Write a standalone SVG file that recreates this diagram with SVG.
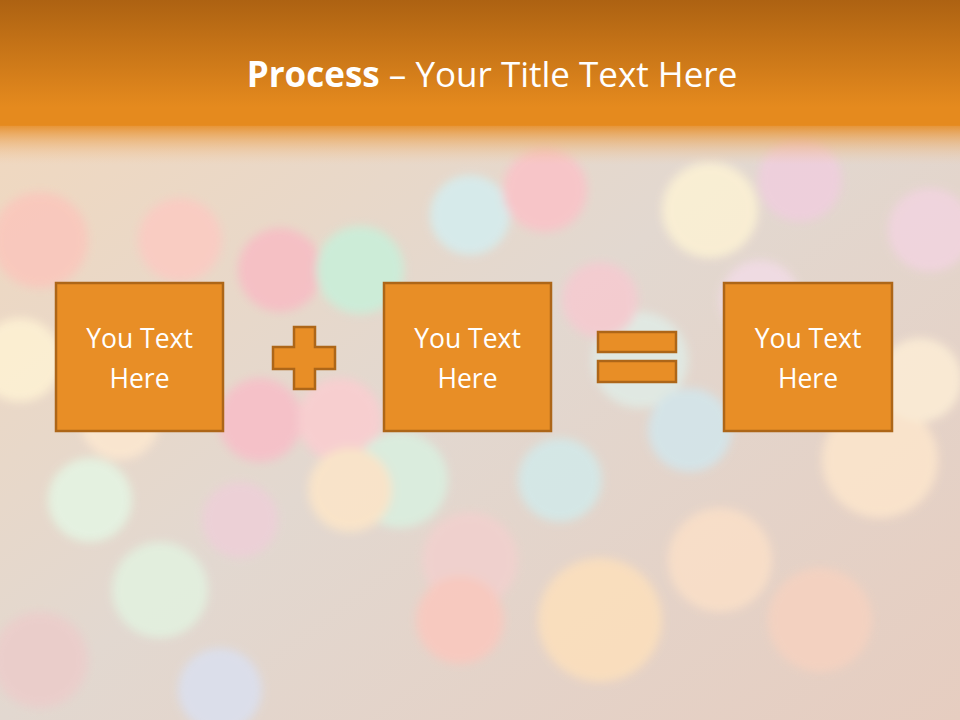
<svg xmlns="http://www.w3.org/2000/svg" width="960" height="720" viewBox="0 0 960 720">
<defs>
<linearGradient id="hdr" x1="0" y1="0" x2="0" y2="1">
<stop offset="0" stop-color="#ad6212"/>
<stop offset="0.85" stop-color="#e58a1e"/>
<stop offset="1" stop-color="#e58a1e"/>
</linearGradient>
<linearGradient id="fade" x1="0" y1="0" x2="0" y2="1">
<stop offset="0" stop-color="#e68b22" stop-opacity="0.9"/>
<stop offset="1" stop-color="#f3c9a0" stop-opacity="0"/>
</linearGradient>
<linearGradient id="bg" x1="0" y1="0" x2="1" y2="1">
<stop offset="0" stop-color="#f3d8bc"/>
<stop offset="0.5" stop-color="#e2d8d0"/>
<stop offset="1" stop-color="#e6cdc0"/>
</linearGradient>
<filter id="blur" x="-20%" y="-20%" width="140%" height="140%"><feGaussianBlur stdDeviation="5"/></filter>
<style>
.box{fill:#e88e26;stroke:#ad6618;stroke-width:2.5}
.sym{fill:#e88e26;stroke:#ad6618;stroke-width:2.5}
.lbl{font-family:"Open Sans","Liberation Sans",sans-serif;font-size:26.5px;fill:#ffffff;text-anchor:middle}
.title{font-family:"Open Sans","Liberation Sans",sans-serif;font-size:35px;fill:#ffffff;text-anchor:middle}
</style>
</defs>
<rect width="960" height="720" fill="url(#bg)"/>
<g filter="url(#blur)" opacity="0.85">
<circle cx="40" cy="240" r="48" fill="#fbc6bc"/>
<circle cx="180" cy="240" r="42" fill="#fccac2"/>
<circle cx="280" cy="270" r="42" fill="#f8bcc4"/>
<circle cx="360" cy="270" r="44" fill="#c8f0da"/>
<circle cx="470" cy="215" r="40" fill="#d4eef0"/>
<circle cx="545" cy="190" r="42" fill="#fbc2c8"/>
<circle cx="710" cy="210" r="48" fill="#fdf2d4"/>
<circle cx="800" cy="180" r="42" fill="#f0cede"/>
<circle cx="930" cy="230" r="42" fill="#f2d4e0"/>
<circle cx="20" cy="360" r="42" fill="#fef2d4"/>
<circle cx="260" cy="420" r="42" fill="#f8bec8"/>
<circle cx="340" cy="420" r="42" fill="#fbcdd0"/>
<circle cx="400" cy="480" r="48" fill="#d9f0e0"/>
<circle cx="350" cy="490" r="42" fill="#fde6c8"/>
<circle cx="90" cy="500" r="42" fill="#e4f6e4"/>
<circle cx="160" cy="590" r="48" fill="#e2f2e0"/>
<circle cx="240" cy="520" r="38" fill="#eecfd8"/>
<circle cx="560" cy="480" r="42" fill="#d2eaea"/>
<circle cx="470" cy="560" r="48" fill="#f2d0ce"/>
<circle cx="460" cy="620" r="44" fill="#fbc8be"/>
<circle cx="600" cy="620" r="62" fill="#fde0bc"/>
<circle cx="720" cy="560" r="52" fill="#fbe0c8"/>
<circle cx="880" cy="460" r="58" fill="#fde6cc"/>
<circle cx="920" cy="380" r="42" fill="#fdeed6"/>
<circle cx="820" cy="620" r="52" fill="#f6d2c0"/>
<circle cx="640" cy="360" r="48" fill="#e0ece6"/>
<circle cx="690" cy="430" r="42" fill="#d2e6ec"/>
<circle cx="40" cy="660" r="48" fill="#ecccca"/>
<circle cx="220" cy="690" r="42" fill="#dae0f0"/>
<circle cx="600" cy="300" r="38" fill="#f6cad0"/>
<circle cx="120" cy="420" r="40" fill="#fde8d0"/>
<circle cx="760" cy="300" r="40" fill="#f2dce6"/>
</g>
<rect x="0" y="0" width="960" height="126" fill="url(#hdr)"/>
<rect x="0" y="125" width="960" height="40" fill="url(#fade)"/>
<text class="title" x="492" y="87"><tspan font-weight="bold">Process</tspan> – Your Title Text Here</text>
<g id="box1">
<rect class="box" x="56" y="283" width="167" height="148"/>
<text class="lbl" x="139.5" y="348">You Text</text>
<text class="lbl" x="139.5" y="388">Here</text>
</g>
<g id="plus">
<path class="sym" d="M294,327 H315 V347 H335 V369 H315 V389 H294 V369 H273 V347 H294 Z"/>
</g>
<g id="box2">
<rect class="box" x="384" y="283" width="167" height="148"/>
<text class="lbl" x="467.5" y="348">You Text</text>
<text class="lbl" x="467.5" y="388">Here</text>
</g>
<g id="equals">
<rect class="sym" x="598" y="332" width="78" height="20"/>
<rect class="sym" x="598" y="361" width="78" height="21"/>
</g>
<g id="box3">
<rect class="box" x="724" y="283" width="168" height="148"/>
<text class="lbl" x="808" y="348">You Text</text>
<text class="lbl" x="808" y="388">Here</text>
</g>
<g id="connectors"/>
</svg>
